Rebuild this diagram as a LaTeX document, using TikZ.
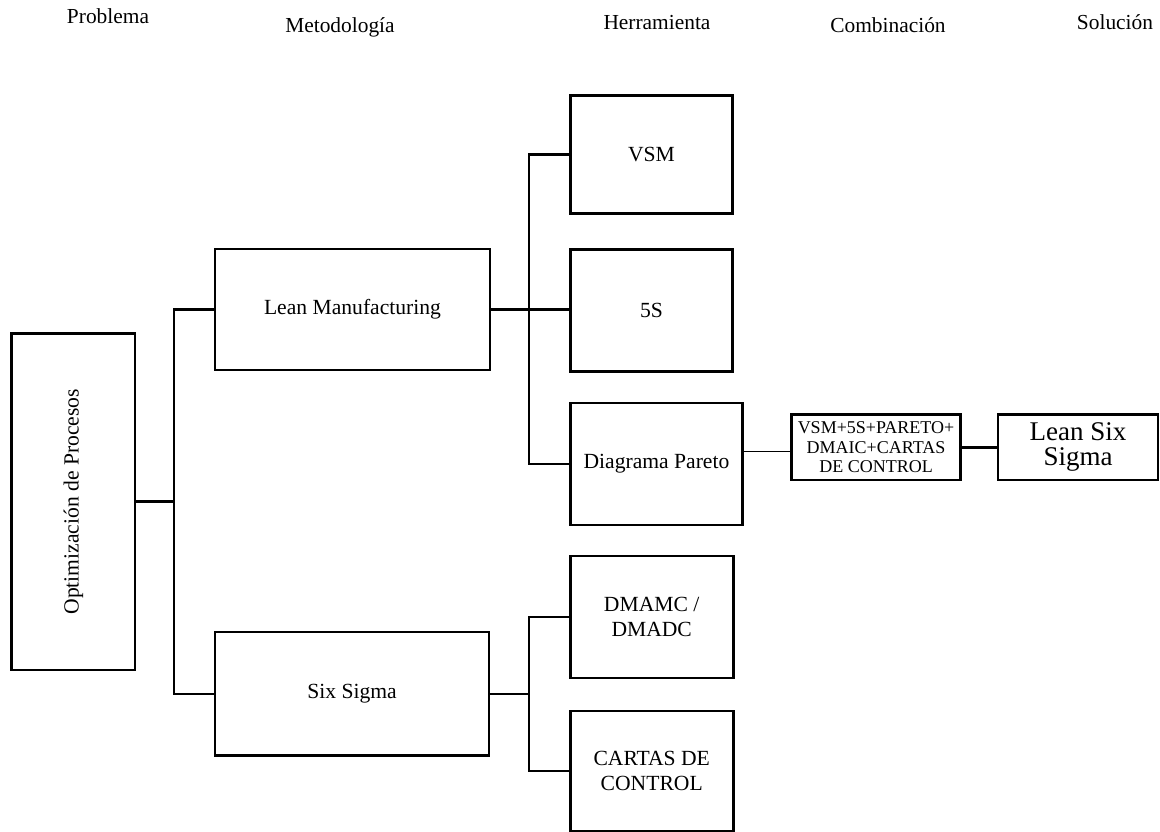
\documentclass[tikz,border=0pt]{standalone}
\usepackage{fontspec}
\usepackage{graphicx}
\setmainfont{Liberation Serif}
\newcommand\txtsize[2]{\fontsize{#1}{#2}\selectfont}
\begin{document}
\begin{tikzpicture}[x=1pt,y=-1pt,
  box/.style={draw, line width=2.6pt, inner sep=0pt, align=center, font=\txtsize{21.6}{25}},
  link/.style={line width=2.6pt},
  thinlink/.style={line width=1.3pt},
  head/.style={anchor=base, inner sep=0pt, font=\txtsize{21.4}{24}}]
\useasboundingbox (0,0) rectangle (1160,832);

% column headings
\node[head] (h1) at (108,24) {Problema};
\node[head] (h2) at (340,33) {Metodología};
\node[head] (h3) at (657,30) {Herramienta};
\node[head] (h4) at (888,33) {Combinación};
\node[head] (h5) at (1115,30) {Solución};

% problem
\node[box, minimum width=123.3pt, minimum height=336.7pt] (opt) at (73.3,501.7)
  {\rotatebox{90}{Optimización de Procesos}};

% methodologies
\node[box, minimum width=275pt, minimum height=121pt] (lean) at (352.5,309.5) {Lean Manufacturing};
\node[box, minimum width=274pt, minimum height=123.5pt] (six) at (352,693.8) {Six Sigma};

% tools
\node[box, minimum width=161.6pt, minimum height=117.6pt] (vsm) at (651.5,154.5) {VSM};
\node[box, minimum width=162pt, minimum height=122pt] (s5) at (651.5,310.5) {5S};
\node[box, minimum width=171.6pt, minimum height=122pt] (pareto) at (656.5,464) {Diagrama Pareto};
\node[box, minimum width=163pt, minimum height=121.7pt] (dmamc) at (651.7,617) {DMAMC /\\DMADC};
\node[box, minimum width=163pt, minimum height=120pt] (cartas) at (651.7,771) {CARTAS DE\\CONTROL};

% combination and solution
\node[box, line width=2.5pt, minimum width=169.4pt, minimum height=65.3pt, font=\txtsize{18}{19.5}]
  (comb) at (876,447.3) {VSM+5S+PARETO+\\DMAIC+CARTAS\\DE CONTROL};
\node[box, minimum width=160pt, minimum height=65.3pt, font=\txtsize{27}{25}]
  (lss) at (1078,447.3) {Lean Six\\Sigma};

% branching connectors
\coordinate (j1) at (174,0);
\coordinate (j2) at (529,0);
\draw[link] (opt.east) -- (opt.east -| j1);
\draw[link] (lean.west) -- (lean.west -| j1) -- (six.west -| j1) -- (six.west);
\draw[link] (lean.east) -- (lean.east -| s5.west);
\draw[link] (vsm.west) -- (vsm.west -| j2) -- (pareto.west -| j2) -- (pareto.west);
\draw[link] (six.east) -- (six.east -| j2);
\draw[link] (dmamc.west) -- (dmamc.west -| j2) -- (cartas.west -| j2) -- (cartas.west);
\coordinate (pc) at (760,451.7);
\draw[thinlink] (pareto.east |- pc) -- (comb.west |- pc);
\draw[link] (comb.east) -- (lss.west);
\end{tikzpicture}
\end{document}
